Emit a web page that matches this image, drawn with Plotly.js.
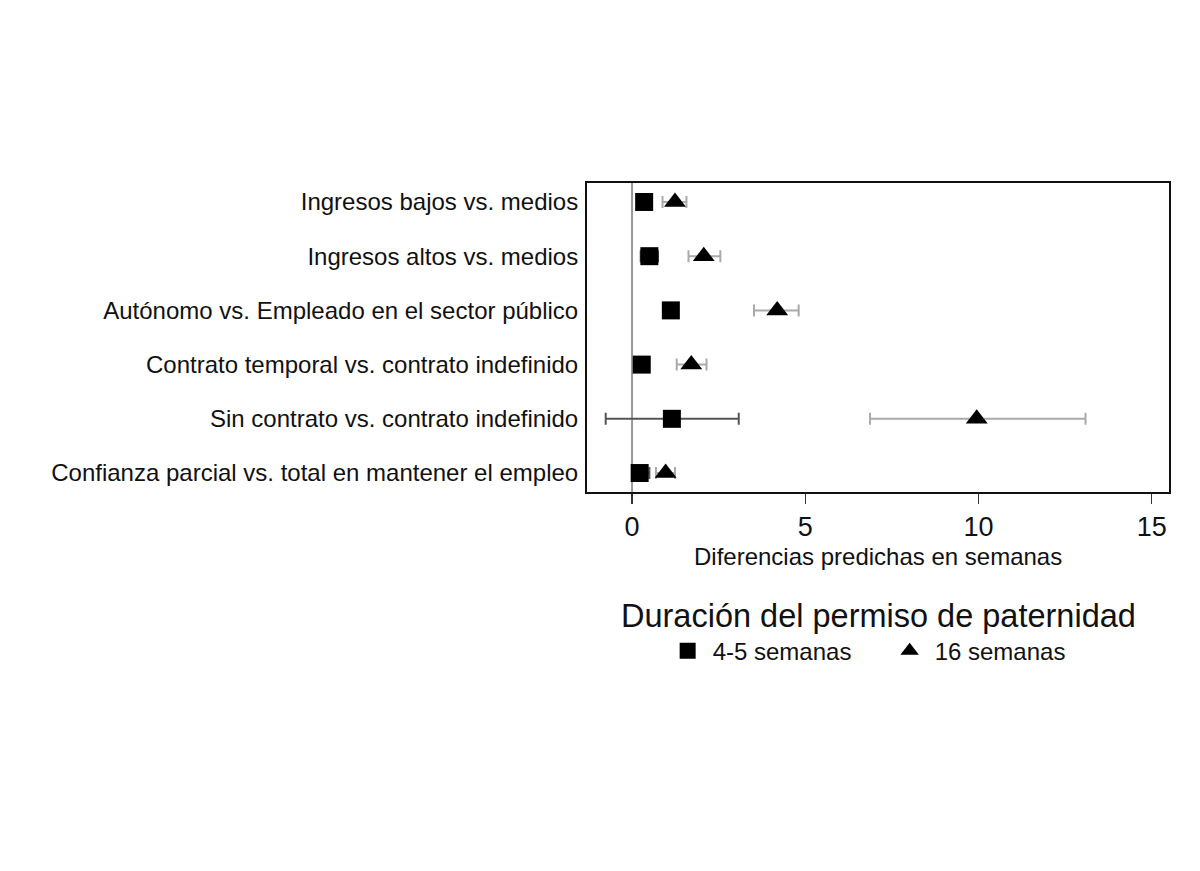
<!DOCTYPE html>
<html>
<head>
<meta charset="utf-8">
<script src="https://cdn.plot.ly/plotly-3.0.1.min.js"></script>
<style>html,body{margin:0;padding:0;background:#fff;}#chart{width:1200px;height:871px;}</style>
</head>
<body>
<div id="chart"></div>
<script>
const categories = [
  "Ingresos bajos vs. medios",
  "Ingresos altos vs. medios",
  "Autónomo vs. Empleado en el sector público",
  "Contrato temporal vs. contrato indefinido",
  "Sin contrato vs. contrato indefinido",
  "Confianza parcial vs. total en mantener el empleo"
];
const catPos = [0, 1, 2, 3, 4, 5];
// 4-5 semanas
const shortVals = [0.35, 0.5, 1.12, 0.28, 1.15, 0.22];
const shortLow  = [0.15, 0.25, 0.92, 0.08, -0.76, 0.0];
const shortHigh = [0.55, 0.75, 1.32, 0.48, 3.08, 0.5];
// 16 semanas
const longVals = [1.24, 2.07, 4.19, 1.71, 9.95, 0.97];
const longLow  = [0.88, 1.63, 3.52, 1.29, 6.87, 0.69];
const longHigh = [1.57, 2.55, 4.81, 2.15, 13.09, 1.24];
const xTicks = [0, 5, 10, 15];
const seriesNames = ["4-5 semanas", "16 semanas"];
const xTitle = "Diferencias predichas en semanas";
const legendTitle = "Duración del permiso de paternidad";

const plus = (v, h) => v.map((x, i) => h[i] - x);
const minus = (v, l) => v.map((x, i) => x - l[i]);

const font = "Liberation Sans, Arial, sans-serif";

const traces = [
  {
    type: "scatter", mode: "markers", name: seriesNames[0],
    x: shortVals, y: catPos,
    marker: {symbol: "square", size: 18, color: "#000"},
    error_x: {type: "data", symmetric: false, array: plus(shortVals, shortHigh), arrayminus: minus(shortVals, shortLow),
              color: "#555", thickness: 2, width: 6}
  },
  {
    type: "scatter", mode: "markers", name: seriesNames[1],
    x: longVals, y: catPos,
    marker: {symbol: "triangle-up", size: 19, color: "#000"},
    error_x: {type: "data", symmetric: false, array: plus(longVals, longHigh), arrayminus: minus(longVals, longLow),
              color: "#aaa", thickness: 2, width: 6}
  }
];

const layout = {
  width: 1200, height: 871,
  paper_bgcolor: "#fff", plot_bgcolor: "#fff",
  margin: {l: 587, r: 31, t: 183, b: 379, pad: 0},
  font: {family: font, color: "#111"},
  showlegend: true,
  legend: {orientation: "h", x: 0.13, xanchor: "left", y: -0.515, yanchor: "middle",
           font: {size: 24, family: font, color: "#111"}, itemwidth: 40, tracegroupgap: 0,
           entrywidth: 167, entrywidthmode: "pixels"},
  xaxis: {
    range: [-1.3, 15.5], tickvals: xTicks, ticktext: xTicks.map(String),
    showgrid: false, zeroline: false, showline: true, mirror: true, linecolor: "#111", linewidth: 2,
    ticks: "outside", ticklen: 10, tickwidth: 1.5, tickcolor: "#333",
    tickfont: {size: 27, family: font, color: "#111"}
  },
  yaxis: {
    range: [5.35, -0.35], tickvals: catPos, ticktext: categories,
    showgrid: false, zeroline: false, showline: true, mirror: true, linecolor: "#111", linewidth: 2,
    ticks: "", ticklabelstandoff: 2,
    tickfont: {size: 24, family: font, color: "#111"}
  },
  shapes: [
    {type: "line", xref: "x", yref: "paper", x0: 0, x1: 0, y0: 0, y1: 1, line: {color: "#999", width: 2}, layer: "below"}
  ],
  annotations: [
    {text: xTitle, xref: "paper", yref: "paper", x: 0.5, y: -0.208, xanchor: "center", yanchor: "middle",
     showarrow: false, font: {size: 24, family: font, color: "#111"}},
    {text: legendTitle, xref: "paper", yref: "paper", x: 0.5, y: -0.4, xanchor: "center", yanchor: "middle",
     showarrow: false, font: {size: 32.5, family: font, color: "#111"}}
  ]
};

Plotly.newPlot("chart", traces, layout, {staticPlot: true, displayModeBar: false});
</script>
</body>
</html>
